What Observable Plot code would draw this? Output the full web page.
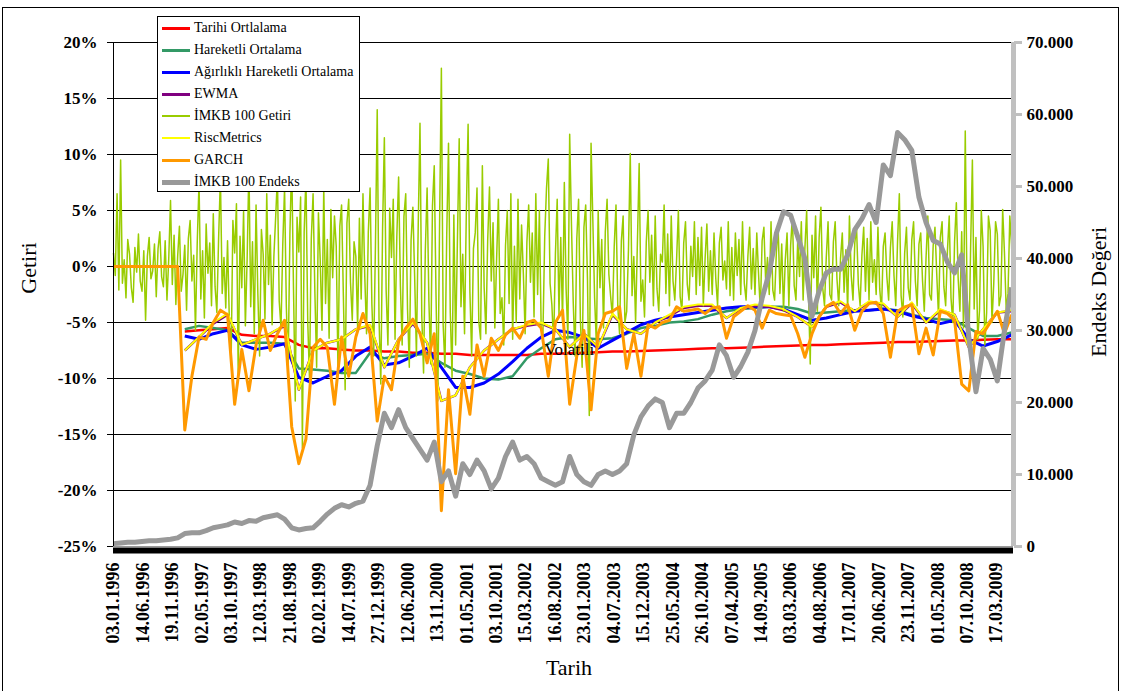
<!DOCTYPE html>
<html><head><meta charset="utf-8">
<script src="https://cdn.jsdelivr.net/npm/d3@7"></script>
<script src="https://cdn.jsdelivr.net/npm/@observablehq/plot@0.6"></script>
<style>
body{margin:0;background:#fff;}
#wrap{position:relative;width:1121px;height:691px;overflow:hidden;}
#legend{position:absolute;left:157px;top:16px;width:203px;height:176px;background:#fff;border:1px solid #000;box-sizing:border-box;font-family:"Liberation Serif","Times New Roman",serif;font-size:14px;color:#000;}
.row{position:absolute;left:4px;height:22px;display:flex;align-items:center;white-space:nowrap;}
.sw{width:28px;margin-right:4px;}
</style>
</head><body><div id="wrap"></div>
<script>
// X axis category labels: one every 114 trading days
const xLabels = ["03.01.1996","14.06.1996","19.11.1996","02.05.1997","03.10.1997","12.03.1998","21.08.1998","02.02.1999","14.07.1999","27.12.1999","12.06.2000","13.11.2000","01.05.2001","03.10.2001","15.03.2002","16.08.2002","23.01.2003","04.07.2003","15.12.2003","25.05.2004","26.10.2004","07.04.2005","14.09.2005","03.03.2006","04.08.2006","17.01.2007","20.06.2007","23.11.2007","01.05.2008","07.10.2008","17.03.2009"];
const labelEvery = 114;     // trading days between labels
const totalDays = 3485;     // trading days on the axis
const volStep = 55.2;       // sampling of moving-average series (days)
const garchStep = 27.6;     // sampling of GARCH and index (days)
const retStep = 6.9;        // sampling of daily returns (days)

// Volatility series (%), null = not yet computed
const tarihiOrtalama = [null,null,null,null,null,-5.8,-5.7,-5.6,-5.5,-6.1,-6.2,-6.2,-6.3,-7.0,-7.3,-7.3,-7.4,-7.5,-7.5,-7.6,-7.6,-7.7,-7.7,-7.8,-7.8,-7.9,-7.9,-7.9,-7.9,-7.9,-7.8,-7.8,-7.75,-7.7,-7.65,-7.6,-7.6,-7.55,-7.5,-7.45,-7.4,-7.35,-7.3,-7.3,-7.25,-7.2,-7.15,-7.1,-7.05,-7.0,-7.0,-6.95,-6.9,-6.85,-6.8,-6.75,-6.75,-6.7,-6.65,-6.6,-6.6,-6.55,-6.5,-6.5];
const hareketliOrtalama = [null,null,null,null,null,-5.6,-5.3,-5.5,-5.7,-6.8,-6.8,-6.8,-6.9,-9.1,-9.2,-9.3,-9.5,-9.5,-7.7,-8.2,-8.0,-7.9,-7.8,-8.6,-9.3,-9.6,-10.0,-10.1,-9.8,-8.2,-7.3,-6.5,-6.3,-6.4,-6.5,-6.4,-6.0,-5.5,-5.3,-5.0,-4.9,-4.7,-4.3,-4.0,-3.8,-3.7,-3.6,-3.6,-3.8,-4.2,-4.1,-4.0,-3.9,-3.9,-3.8,-3.9,-4.3,-4.6,-4.7,-4.8,-5.5,-6.2,-6.2,-5.9];
const agirlikliOrtalama = [null,null,null,null,null,-6.2,-6.5,-6.0,-5.7,-7.0,-7.4,-7.2,-6.9,-9.9,-10.4,-9.8,-9.3,-8.0,-7.2,-8.8,-8.6,-8.0,-7.3,-9.0,-10.8,-10.8,-10.4,-9.6,-8.5,-7.3,-6.3,-5.7,-5.9,-6.3,-7.3,-6.6,-5.9,-5.2,-4.8,-4.5,-4.3,-4.1,-3.9,-3.7,-3.6,-3.6,-3.6,-3.8,-4.3,-4.8,-4.6,-4.3,-4.0,-3.9,-3.8,-4.0,-4.4,-4.7,-5.1,-4.8,-6.5,-7.1,-6.7,-6.1];
const riscMetrics = [null,null,null,null,null,-7.5,-6.3,-5.0,-4.2,-7.0,-6.5,-6.0,-5.2,-11.0,-7.5,-6.8,-6.5,-5.6,-5.2,-9.0,-6.5,-5.0,-6.8,-12.0,-11.5,-9.0,-7.5,-6.5,-5.6,-5.2,-5.0,-5.6,-7.2,-6.0,-7.2,-4.2,-5.6,-6.0,-5.0,-4.3,-3.6,-3.4,-3.4,-4.6,-3.7,-3.4,-3.5,-3.8,-4.5,-5.4,-3.5,-3.1,-4.0,-3.1,-3.3,-4.5,-3.2,-5.0,-3.8,-4.3,-7.2,-5.6,-4.1,-3.9];
const ewma = [null,null,null,null,null,-7.5,-6.3,-5.1,-4.3,-7.0,-6.5,-6.0,-5.3,-11.0,-7.5,-6.8,-6.5,-5.6,-5.3,-9.0,-6.5,-5.1,-6.8,-12.0,-11.5,-9.0,-7.5,-6.5,-5.6,-5.3,-5.1,-5.6,-7.2,-6.0,-7.2,-4.3,-5.6,-6.0,-5.0,-4.4,-3.7,-3.5,-3.5,-4.6,-3.8,-3.5,-3.6,-3.9,-4.5,-5.4,-3.6,-3.2,-4.0,-3.2,-3.4,-4.5,-3.3,-5.0,-3.9,-4.3,-7.2,-5.6,-4.1,-4.0];

// GARCH (%)
const garch = [0,0,0,0,0,0,0,0,0,0,
-14.6,-9.8,-6.3,-6.5,-5.0,-3.9,-4.3,-12.3,-7.4,-11.1,
-7.0,-4.8,-7.5,-6.0,-4.8,-14.3,-17.6,-15.4,-7.2,-6.5,
-7.2,-12.3,-6.3,-9.8,-6.3,-4.2,-6.0,-13.8,-9.8,-11.0,
-6.7,-5.5,-4.7,-6.0,-8.6,-6.0,-21.8,-11.0,-18.5,-9.8,
-13.2,-7.0,-9.8,-6.4,-7.5,-6.1,-5.5,-6.4,-5.0,-4.8,
-5.5,-9.8,-5.0,-3.9,-12.3,-8.0,-5.7,-12.8,-6.0,-4.2,
-4.0,-3.6,-9.1,-6.0,-9.8,-5.2,-5.5,-5.0,-4.8,-3.6,
-4.0,-3.9,-3.8,-4.2,-3.7,-3.6,-6.4,-4.5,-4.0,-3.5,
-3.9,-5.5,-3.9,-4.2,-4.3,-4.4,-6.0,-8.1,-6.0,-4.5,
-3.6,-3.2,-4.2,-3.4,-5.7,-4.0,-3.3,-3.2,-4.2,-8.1,
-4.0,-3.6,-3.4,-7.8,-5.5,-7.9,-4.0,-4.2,-4.8,-10.5,
-11.1,-5.8,-6.0,-5.0,-4.0,-6.0,-4.3];

// İMKB 100 index (thousands)
const endeks = [0.4,0.5,0.6,0.6,0.7,0.8,0.8,0.9,1.0,1.2,
1.8,1.9,1.9,2.2,2.6,2.8,3.0,3.4,3.2,3.6,
3.5,4.0,4.2,4.4,3.8,2.6,2.3,2.5,2.6,3.5,
4.5,5.3,5.8,5.5,6.0,6.3,8.5,14.0,18.5,16.5,
19.0,16.5,15.0,13.5,12.0,14.5,9.0,10.5,7.0,11.5,
10.0,12.0,10.5,8.0,9.5,12.5,14.5,12.0,12.5,11.5,
9.5,9.0,8.5,9.0,12.5,10.0,9.0,8.5,10.0,10.5,
10.0,10.5,11.5,15.5,18.0,19.5,20.5,20.0,16.5,18.5,
18.5,20.0,22.0,23.0,24.5,28.0,26.5,23.5,25.0,27.0,
30.0,34.5,38.0,43.5,46.5,46.0,43.0,40.0,32.0,35.5,
38.0,38.5,38.5,40.5,44.0,45.5,47.5,45.0,53.0,51.5,
57.5,56.5,55.0,48.5,45.0,42.5,42.0,39.5,38.0,40.5,
29.0,21.5,27.5,26.0,23.0,30.0,36.0];

// İMKB 100 daily return (%)
const getiri = [
1.2,-0.8,6.5,-2.1,9.5,-1.5,0.6,-2.8,2.4,1.1,-1.9,-3.2,1.7,-0.5,2.9,-1.3,
-2.2,1.4,-4.8,0.9,2.6,-1.1,-0.4,2.0,-2.7,1.6,3.1,-0.9,-1.8,2.3,-3.0,0.7,
5.9,-1.6,2.8,-3.4,0.9,3.6,-2.2,-0.7,1.9,-3.9,2.5,4.1,-1.3,1.0,-5.7,2.2,
7.5,-2.9,1.4,-4.6,3.8,-0.6,2.1,-3.5,4.7,-1.8,-4.1,2.6,8.0,-2.4,0.8,-3.7,
2.3,-4.8,-8.5,4.1,1.2,5.6,-9.9,2.7,-1.9,4.9,-5.3,0.7,9.0,-3.6,2.2,-6.0,
5.5,-2.4,-8.0,3.3,1.1,-4.7,6.5,-1.6,2.8,-5.2,0.9,4.4,8.0,-3.1,-5.5,2.0,
7.0,-3.6,-9.0,2.9,9.5,-1.8,-12.0,4.4,1.3,6.2,-16.2,3.1,8.0,-4.9,-10.0,2.5,
6.5,-2.2,-9.0,4.8,0.6,-5.7,7.0,-3.3,2.4,-6.4,5.1,-1.0,4.5,1.8,-9.5,3.6,
5.5,-2.6,-11.0,3.9,6.0,-1.4,-4.8,2.2,0.9,-5.5,4.3,-2.9,6.5,-0.8,-6.0,3.1,
7.0,-3.4,-8.0,1.9,14.0,-4.6,-10.5,3.3,11.5,-2.1,-7.0,5.2,0.8,6.0,-6.5,2.7,
8.0,-1.7,-7.0,4.5,6.5,-3.8,-9.0,2.4,5.3,-0.9,-8.0,3.6,12.8,-4.4,-9.5,1.5,
7.0,-3.1,-8.7,5.4,9.0,-2.6,-12.0,3.9,17.7,-5.2,-9.0,2.8,11.0,-4.1,-9.9,4.6,
-7.0,2.3,11.4,-3.6,1.1,-6.0,4.8,12.7,-2.2,-8.0,1.6,3.0,7.0,-4.9,-6.5,9.0,
-1.8,-6.0,2.4,7.1,-1.3,3.9,-5.5,0.7,6.0,-4.2,-2.8,-7.0,1.9,5.0,-3.3,6.5,
-6.5,1.8,-5.0,6.0,-2.9,3.7,-0.6,-6.0,2.2,5.5,-1.4,3.0,-4.5,6.5,-2.5,5.0,
-5.5,-6.0,2.7,7.0,9.6,-1.5,-3.4,-7.0,1.1,6.0,-4.3,2.6,-5.0,7.5,-2.0,-6.5,
11.8,3.8,-3.2,-8.0,2.5,6.0,-4.7,-9.0,3.5,5.5,-1.2,-13.3,11.0,4.1,-2.8,-7.0,
5.0,-1.9,2.4,-5.5,3.1,6.0,-0.7,-2.7,-4.5,1.8,5.5,-3.6,-6.0,2.3,4.5,-5.0,
-4.0,1.5,10.1,-2.6,0.9,-5.0,2.1,9.2,-3.1,-1.2,-4.5,2.2,5.0,-1.4,2.8,-3.5,
4.5,-2.0,-4.0,1.1,0.4,5.5,-2.4,2.9,-3.5,4.5,-1.3,-3.0,0.6,5.0,-2.7,-4.0,
2.1,4.0,-1.6,-3.0,1.8,-0.9,4.0,-2.5,2.6,-1.7,3.5,-3.5,0.7,3.8,-2.2,1.4,
-2.5,3.0,-1.1,-3.5,2.1,3.5,-1.2,0.5,-2.0,4.0,-2.6,1.7,-3.0,3.0,-0.8,2.4,
-2.5,4.0,-1.5,-3.0,0.9,3.5,-2.0,1.6,-2.5,3.0,-0.7,-4.0,2.3,3.5,-1.4,0.8,
-2.5,4.0,-2.1,-3.0,1.3,3.5,-2.4,2.0,-4.0,0.6,3.0,-3.5,1.9,4.5,-1.7,-3.0,
2.5,-0.9,4.0,-3.0,1.6,5.0,-2.3,-8.7,2.8,-1.0,4.5,-4.0,2.6,5.3,-1.9,-3.5,
0.8,4.0,-2.5,-3.0,2.2,4.0,-1.1,-3.5,0.7,3.0,-2.3,1.5,-4.0,4.5,-0.8,-3.0,
2.1,3.5,-1.6,-3.5,1.0,3.5,-2.2,2.5,-3.0,4.0,-1.4,0.6,-2.5,3.5,-2.0,-4.0,
1.8,3.0,-0.9,-3.0,1.7,4.0,-0.8,-3.5,2.2,6.5,-2.6,-4.5,1.2,3.5,-1.9,-3.0,
2.4,4.0,-1.3,-3.5,2.0,3.0,-1.2,-4.0,0.8,4.5,-2.5,-3.0,1.9,3.5,-0.7,-4.5,
2.6,4.0,-1.8,-3.5,1.4,4.5,-2.8,-5.0,2.2,5.7,-1.0,-4.0,3.1,-5.5,12.1,-2.4,
-7.5,1.6,9.5,-3.8,2.6,-6.5,-3.9,5.0,1.8,-7.0,-4.1,4.5,3.2,-5.0,-1.5,4.0,
2.9,-3.5,-2.6,5.1,1.2,-4.0,-2.4,4.5,1.9,-3.0];

const leftTicks = [-25,-20,-15,-10,-5,0,5,10,15,20];
const rightTicks = [0,10,20,30,40,50,60,70]; // thousands

const series = [
  {name:"Tarihi Ortlalama", color:"#ff0000", w:2.5},
  {name:"Hareketli Ortalama", color:"#339966", w:2.5},
  {name:"Ağırlıklı Hareketli Ortalama", color:"#0000ff", w:3},
  {name:"EWMA", color:"#800080", w:2.5},
  {name:"İMKB 100 Getiri", color:"#99cc00", w:1.5},
  {name:"RiscMetrics", color:"#ffff00", w:2},
  {name:"GARCH", color:"#ff9900", w:3},
  {name:"İMKB 100 Endeks", color:"#999999", w:5}
];

// right axis (thousands) mapped onto the left % scale
const toPct = v => -25 + v * 45 / 70;
const sampled = (arr, step) => arr.map((v, i) => ({x: i * step, y: v}));

const lineOpts = (s) => ({x:"x", y:"y", stroke:s.color, strokeWidth:s.w, strokeLinejoin:"round", strokeLinecap:"butt", defined: d => d.y != null});

const font = '"Liberation Serif","Times New Roman",serif';
const tickDays = xLabels.map((_, i) => i * labelEvery);

const chart = Plot.plot({
  width: 1121, height: 691,
  marginLeft: 113, marginRight: 108, marginTop: 42, marginBottom: 145,
  style: {fontFamily: font, background: "#fff", color: "#000"},
  x: {domain: [0, totalDays], axis: null},
  y: {domain: [-25, 20], axis: null},
  marks: [
    Plot.ruleY(leftTicks.filter(d => d > -25), {stroke: "#000", strokeWidth: 1}),
    Plot.line(sampled(tarihiOrtalama, volStep), lineOpts(series[0])),
    Plot.line(sampled(hareketliOrtalama, volStep), lineOpts(series[1])),
    Plot.line(sampled(agirlikliOrtalama, volStep), lineOpts(series[2])),
    Plot.line(sampled(ewma, volStep), lineOpts(series[3])),
    Plot.line(sampled(getiri, retStep), lineOpts(series[4])),
    Plot.line(sampled(riscMetrics, volStep), lineOpts(series[5])),
    Plot.line(sampled(garch, garchStep), lineOpts(series[6])),
    Plot.line(sampled(endeks.map(toPct), garchStep), lineOpts(series[7])),
    Plot.text([{x: 1765, y: -7.4}], {x:"x", y:"y", text: () => "Volatili", fontSize: 17, fill: "#000"}),
    Plot.ruleY([-25], {stroke: "#999", strokeWidth: 1}),
    Plot.ruleY([-25], {stroke: "#000", strokeWidth: 6, dy: 4}),
    Plot.ruleX([0], {stroke: "#000", strokeWidth: 1}),
    Plot.ruleX([totalDays], {stroke: "#c0c0c0", strokeWidth: 5, y1: -25, y2: 20}),
    Plot.axisY({anchor: "left", ticks: leftTicks, tickFormat: d => d + "%", tickSize: 6, tickPadding: 10, fontSize: 17, fontWeight: "bold", label: null, stroke: "#000"}),
    Plot.axisY({anchor: "right", ticks: rightTicks.map(toPct), tickFormat: (d, i) => rightTicks[i] === 0 ? "0" : rightTicks[i] + ".000", tickSize: 8, tickPadding: 5, fontSize: 17, fontWeight: "bold", label: null, stroke: "#c0c0c0", strokeWidth: 3}),
    Plot.axisX({ticks: tickDays, tickFormat: (d, i) => xLabels[i], tickRotate: -90, tickSize: 0, tickPadding: 16, fontSize: 18, fontWeight: "bold", label: null})
  ]
});

const svg = d3.select(chart);
svg.append("rect").attr("x", 2.5).attr("y", 7.5).attr("width", 1116).attr("height", 700).attr("fill", "none").attr("stroke", "#000").attr("stroke-width", 1);
svg.append("text").attr("transform", "translate(36,268) rotate(-90)").attr("text-anchor", "middle").attr("font-size", 22).attr("font-family", font).attr("fill", "#000").text("Getiri");
svg.append("text").attr("transform", "translate(1106,292) rotate(-90)").attr("text-anchor", "middle").attr("font-size", 22).attr("font-family", font).attr("fill", "#000").text("Endeks Değeri");
svg.append("text").attr("x", 569).attr("y", 675).attr("text-anchor", "middle").attr("font-size", 22).attr("font-family", font).attr("fill", "#000").text("Tarih");

const wrap = document.getElementById("wrap");
wrap.appendChild(chart);

// Legend overlay
const legend = document.createElement("div");
legend.id = "legend";
series.forEach((s, i) => {
  const row = document.createElement("div");
  row.className = "row";
  row.style.top = (i * 22) + "px";
  const sw = document.createElement("div");
  sw.className = "sw";
  sw.style.height = (s.w >= 5 ? 5 : s.w <= 2 ? 2 : 3) + "px";
  sw.style.background = s.color;
  const lab = document.createElement("span");
  lab.textContent = s.name;
  row.appendChild(sw); row.appendChild(lab);
  legend.appendChild(row);
});
wrap.appendChild(legend);
</script>
</body></html>
